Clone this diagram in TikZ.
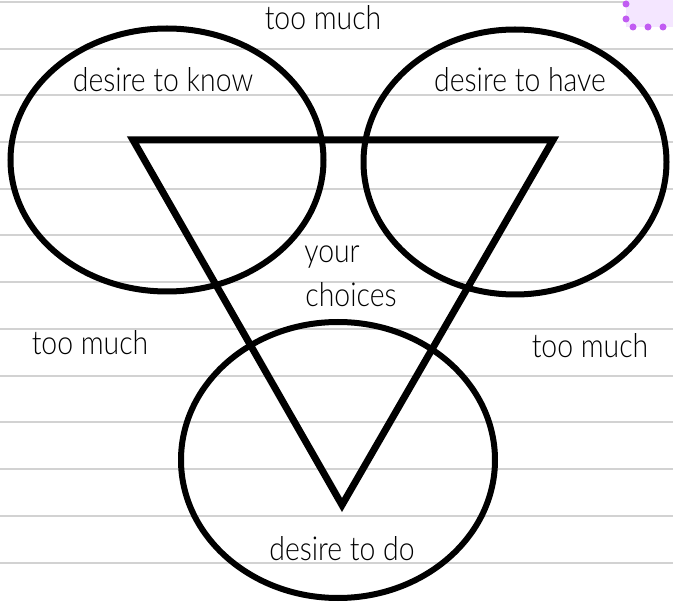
\documentclass[tikz,border=0pt]{standalone}
\usepackage{fontspec}
\setmainfont{Lato Light}[FakeStretch=0.86]
\usetikzlibrary{shapes.geometric}
\definecolor{ruleg}{HTML}{D2D2D2}
\definecolor{lav}{HTML}{F4E6FF}
\definecolor{dotp}{HTML}{C15CF2}
\tikzset{
  ring/.style={ellipse, draw=black, line width=6pt, inner sep=0pt},
  lbl/.style={font=\fontsize{33}{36}\selectfont, inner sep=0pt, anchor=base},
  rule/.style={draw=ruleg, line width=2pt},
  tri/.style={draw=black, line width=7pt, line join=miter},
  pdot/.style={circle, fill=dotp, inner sep=0pt, minimum size=7pt}
}
\begin{document}
\begin{tikzpicture}[x=1pt,y=-1pt]
\useasboundingbox[fill=white] (0,0) rectangle (673,604);
\foreach \yy in {2,48.7,95.4,142,188.8,235.5,282.2,328.9,375.6,422.3,469,515.8,562.5}
  \draw[rule] (0,\yy) -- (673,\yy);
\fill[lav] (626,0) rectangle (673,27);
\node[pdot] (p1) at (626,4) {};
\node[pdot] (p2) at (626,19) {};
\node[pdot] (p3) at (633,27) {};
\node[pdot] (p4) at (648,27) {};
\node[pdot] (p5) at (663,27) {};
\node[ring, minimum width=313pt, minimum height=263pt] (know) at (167,160) {};
\node[ring, minimum width=303pt, minimum height=265pt] (have) at (515,162) {};
\node[ring, minimum width=314pt, minimum height=276pt] (do) at (338,460) {};
\coordinate (ta) at (133,140);
\coordinate (tb) at (553,140);
\coordinate (tc) at (342,505);
\draw[tri] (ta) -- (tb) -- (tc) -- cycle;
\node[lbl] (tm1) at (323,30) {too much};
\node[lbl] (tm2) at (90,355) {too much};
\node[lbl] (tm3) at (590,358) {too much};
\node[lbl] (dk) at (163,92) {desire to know};
\node[lbl] (dh) at (520,92) {desire to have};
\node[lbl] (dd) at (342,560) {desire to do};
\node[lbl] (yc1) at (332,263) {your};
\node[lbl] (yc2) at (351,307) {choices};
\end{tikzpicture}
\end{document}
